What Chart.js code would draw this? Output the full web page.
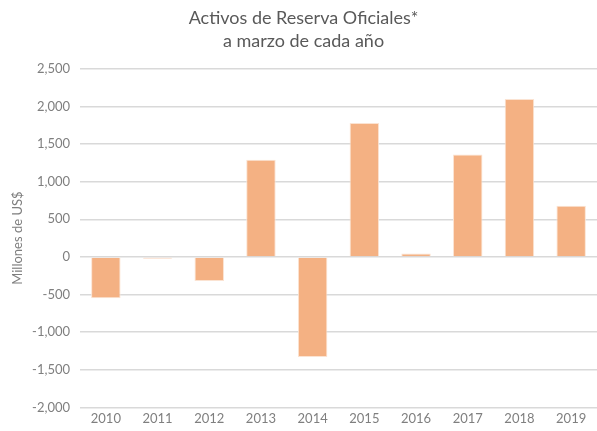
<!DOCTYPE html>
<html>
<head>
<meta charset="utf-8">
<script src="https://cdn.jsdelivr.net/npm/chart.js@4/dist/chart.umd.min.js"></script>
<style>
  html, body { margin: 0; padding: 0; background: #fff; }
  #wrap { width: 597px; height: 431px; position: relative; }
</style>
</head>
<body>
<div id="wrap"><canvas id="reservas"></canvas></div>
<script>
// datos (millones de US$)
const years = ["2010", "2011", "2012", "2013", "2014", "2015", "2016", "2017", "2018", "2019"];
const reserveValues = [-550, -25, -320, 1290, -1330, 1780, 45, 1360, 2100, 680];
const yTicks = [-2000, -1500, -1000, -500, 0, 500, 1000, 1500, 2000, 2500];

const font = "Lato, 'Open Sans', sans-serif";

new Chart(document.getElementById("reservas"), {
    type: "bar",
    data: {
        labels: years,
        datasets: [{
            data: reserveValues,
            backgroundColor: "#F4B183",
            borderColor: "#FBE3D2",
            borderWidth: 1,
            barPercentage: 0.57,
            categoryPercentage: 1
        }]
    },
    options: {
        responsive: true,
        maintainAspectRatio: false,
        animation: false,
        layout: { padding: { left: 10, right: 0, top: 6, bottom: 0 } },
        plugins: {
            legend: { display: false },
            tooltip: { enabled: false },
            title: {
                display: true,
                text: ["Activos de Reserva Oficiales*", "a marzo de cada año"],
                color: "#595959",
                font: { family: font, size: 18, weight: "normal", lineHeight: 1.3 },
                padding: { top: 0, bottom: 16 }
            }
        },
        scales: {
            x: {
                grid: { display: false, drawTicks: false },
                border: { display: false },
                ticks: { color: "#7f7f7f", font: { family: font, size: 13 }, padding: 4 }
            },
            y: {
                min: -2000,
                max: 2500,
                afterBuildTicks: function(axis) {
                    axis.ticks = yTicks.map(v => ({ value: v }));
                },
                afterFit: function(axis) {
                    axis.width = 70;
                },
                grid: { color: "#d9d9d9", lineWidth: 1.5, drawTicks: false },
                border: { display: false },
                ticks: {
                    color: "#7f7f7f",
                    font: { family: font, size: 13 },
                    padding: 10,
                    callback: v => v.toLocaleString("en-US")
                },
                title: {
                    display: true,
                    text: "Millones de US$",
                    color: "#7f7f7f",
                    font: { family: font, size: 13 },
                    padding: { top: 0, bottom: 0 }
                }
            }
        }
    }
});
</script>
</body>
</html>
